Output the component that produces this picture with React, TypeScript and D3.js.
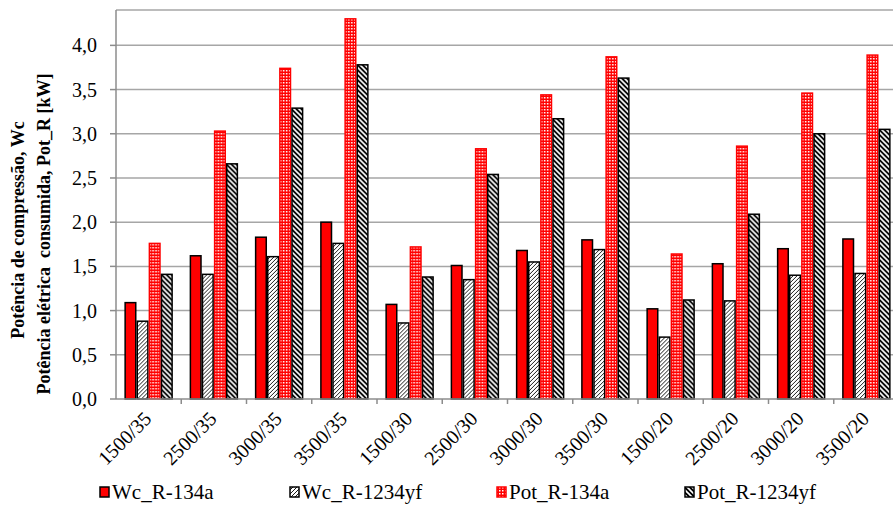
import React, { useEffect, useRef } from "react";
import * as d3 from "d3";

const categories = ["1500/35","2500/35","3000/35","3500/35","1500/30","2500/30","3000/30","3500/30","1500/20","2500/20","3000/20","3500/20"];
const seriesNames = ["Wc_R-134a","Wc_R-1234yf","Pot_R-134a","Pot_R-1234yf"];
const wc134a = [1.09,1.62,1.83,2.00,1.07,1.51,1.68,1.80,1.02,1.53,1.70,1.81];
const wc1234yf = [0.88,1.41,1.61,1.76,0.86,1.35,1.55,1.69,0.70,1.11,1.40,1.42];
const pot134a = [1.76,3.03,3.74,4.30,1.72,2.83,3.44,3.87,1.64,2.86,3.46,3.89];
const pot1234yf = [1.41,2.66,3.29,3.78,1.38,2.54,3.17,3.63,1.12,2.09,3.00,3.05];
const yTicks = [0,0.5,1,1.5,2,2.5,3,3.5,4];

const seriesValues = [wc134a, wc1234yf, pot134a, pot1234yf];
const fills = ["#ff0000","url(#pWc1234)","url(#pPot134)","url(#pPot1234)"];
const strokes = ["#000","#000","#ff0000","#000"];

const FONT = '"Liberation Serif", "DejaVu Serif", serif';

export default function App() {
  const ref = useRef<SVGSVGElement>(null);
  const W = 893, H = 518;

  useEffect(() => {
    const svg = d3.select(ref.current);
    svg.selectAll("*").remove();
    const left = 116, right = 899, top = 10, bottom = 399;
    const x0 = d3.scaleBand<string>().domain(categories).range([left, right]).paddingInner(0.257).paddingOuter(0.1285);
    const x1 = d3.scaleBand<string>().domain(seriesNames).range([0, x0.bandwidth()]).padding(0);
    const y = d3.scaleLinear().domain([0, 4.4]).range([bottom, top]);
    const step = x0.step();
    const legendX = [100, 290, 497, 685];

    const defs = svg.append("defs");
    const p1 = defs.append("pattern").attr("id", "pWc1234").attr("patternUnits", "userSpaceOnUse").attr("width", 4).attr("height", 4);
    p1.append("rect").attr("width", 4).attr("height", 4).attr("fill", "#fff");
    p1.append("path").attr("d", "M-1,1 l2,-2 M0,4 l4,-4 M3,5 l2,-2").attr("stroke", "#000").attr("stroke-width", 0.9);
    const p2 = defs.append("pattern").attr("id", "pPot134").attr("patternUnits", "userSpaceOnUse").attr("width", 3).attr("height", 3);
    p2.append("rect").attr("width", 3).attr("height", 3).attr("fill", "#ff0000");
    p2.append("rect").attr("x", 1).attr("y", 1).attr("width", 1.5).attr("height", 1.5).attr("fill", "#fff");
    const p3 = defs.append("pattern").attr("id", "pPot1234").attr("patternUnits", "userSpaceOnUse").attr("width", 5).attr("height", 5);
    p3.append("rect").attr("width", 5).attr("height", 5).attr("fill", "#000");
    p3.append("path").attr("d", "M-1,4 l2,2 M0,0 l5,5 M4,-1 l2,2").attr("stroke", "#fff").attr("stroke-width", 1.6);

    svg.append("rect").attr("width", W).attr("height", H).attr("fill", "#fff");

    svg.selectAll("line.grid").data(yTicks.filter(t => t > 0)).join("line")
      .attr("x1", left).attr("x2", W).attr("y1", d => y(d)).attr("y2", d => y(d))
      .attr("stroke", "#a6a6a6").attr("stroke-width", 1.5);
    svg.append("line").attr("x1", left).attr("x2", W).attr("y1", top).attr("y2", top).attr("stroke", "#a6a6a6").attr("stroke-width", 1.5);

    const groups = svg.append("g").selectAll("g").data(categories).join("g")
      .attr("transform", c => `translate(${x0(c)},0)`);
    groups.selectAll("rect").data((c, i) => seriesNames.map((s, j) => ({ s, j, v: seriesValues[j][i] }))).join("rect")
      .attr("x", d => (x1(d.s) as number) + 0.75)
      .attr("y", d => y(d.v))
      .attr("width", x1.bandwidth() - 1.5)
      .attr("height", d => bottom - y(d.v))
      .attr("fill", d => fills[d.j])
      .attr("stroke", d => strokes[d.j])
      .attr("stroke-width", 1.5);

    svg.append("line").attr("x1", left).attr("x2", left).attr("y1", top).attr("y2", bottom).attr("stroke", "#8c8c8c").attr("stroke-width", 1.5);
    svg.append("line").attr("x1", left).attr("x2", W).attr("y1", bottom).attr("y2", bottom).attr("stroke", "#8c8c8c").attr("stroke-width", 1.5);

    const yt = svg.append("g").selectAll("g").data(yTicks).join("g");
    yt.append("line").attr("x1", left - 6).attr("x2", left).attr("y1", d => y(d)).attr("y2", d => y(d)).attr("stroke", "#8c8c8c").attr("stroke-width", 1.5);
    yt.append("text").attr("x", 97).attr("y", d => y(d)).attr("dy", "0.35em").attr("text-anchor", "end")
      .style("font-family", FONT).style("font-size", "20px").attr("fill", "#000")
      .text(d => d3.format(".1f")(d).replace(".", ","));

    svg.append("g").selectAll("line").data(categories).join("line")
      .attr("x1", (c, i) => left + step * (i + 1)).attr("x2", (c, i) => left + step * (i + 1))
      .attr("y1", bottom).attr("y2", bottom + 5).attr("stroke", "#8c8c8c").attr("stroke-width", 1.5);

    svg.append("g").selectAll("text").data(categories).join("text")
      .attr("transform", c => `translate(${(x0(c) as number) + x0.bandwidth() / 2 + 4},420) rotate(-45)`)
      .attr("text-anchor", "end").style("font-family", FONT).style("font-size", "20px").attr("fill", "#000")
      .text(c => c);

    svg.append("text").attr("transform", "translate(24,230) rotate(-90)").attr("text-anchor", "middle")
      .style("font-family", FONT).style("font-size", "18px").style("font-weight", "bold")
      .text("Potência de compressão, Wc");
    svg.append("text").attr("transform", "translate(50,234) rotate(-90)").attr("text-anchor", "middle")
      .style("font-family", FONT).style("font-size", "18px").style("font-weight", "bold").style("white-space", "pre")
      .text("Potência elétrica  consumida, Pot_R [kW]");

    const lg = svg.append("g").selectAll("g").data(seriesNames).join("g");
    lg.append("rect").attr("x", (s, j) => legendX[j]).attr("y", 487).attr("width", 9).attr("height", 10)
      .attr("fill", (s, j) => fills[j]).attr("stroke", (s, j) => strokes[j]).attr("stroke-width", 1.5);
    lg.append("text").attr("x", (s, j) => legendX[j] + 12).attr("y", 492).attr("dy", "0.35em")
      .style("font-family", FONT).style("font-size", "21px").attr("fill", "#000").text(s => s);
  }, []);

  return <svg ref={ref} width={W} height={H} style={{ position: "absolute", left: 0, top: 0, background: "#fff" }} />;
}
